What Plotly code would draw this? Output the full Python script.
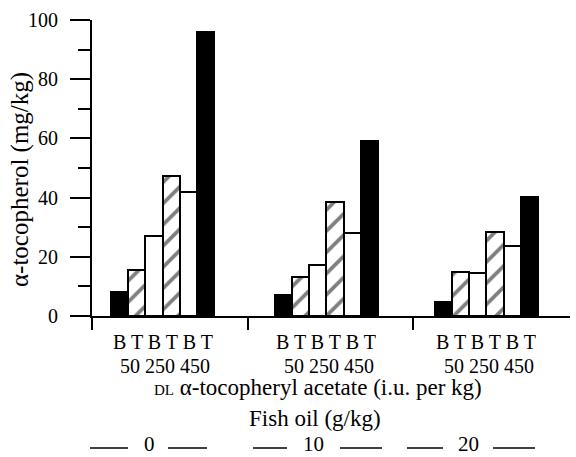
import plotly.graph_objects as go

# ---- data ----
fish_oil_levels = ["0", "10", "20"]
bar_labels = ["B", "T", "B", "T", "B", "T"]
dose_labels = ["50", "250", "450"]
fo0 = [8.2, 15.5, 27.0, 47.4, 41.9, 95.8]
fo10 = [7.1, 13.3, 17.2, 38.4, 27.9, 59.1]
fo20 = [4.8, 15.0, 14.4, 28.3, 23.8, 40.3]
series = [fo0, fo10, fo20]

# ---- styling / layout helpers ----
bar_style = ["black", "hatch", "white", "hatch", "white", "black"]
group_start = [1.58, 11.05, 20.3]
sep_ticks = [0, 9.0, 18.55]

W, H = 576, 457
L, R, T, B = 92, 6, 20, 141
PW, PH = W - L - R, H - T - B
XMAX = PW / 17.3
FONT = "Liberation Serif"


def xp(px):
    return (px - L) / PW


def yp(py):
    return (H - B - py) / PH


fig = go.Figure()
for style in ["black", "white", "hatch"]:
    xs, ys = [], []
    for g, vals in enumerate(series):
        for i, v in enumerate(vals):
            if bar_style[i] == style:
                xs.append(group_start[g] + i)
                ys.append(v)
    if style == "hatch":
        marker = dict(color="white", line=dict(color="black", width=2),
                      pattern=dict(shape="/", fgcolor="black", bgcolor="white",
                                   size=15, solidity=0.25))
    else:
        marker = dict(color=style, line=dict(color="black", width=2))
    fig.add_trace(go.Bar(x=xs, y=ys, width=1.0, marker=marker,
                         showlegend=False, hoverinfo="skip"))

annotations = []
for g in range(3):
    gc = group_start[g] + (len(bar_labels) - 1) / 2
    annotations.append(dict(x=gc, xref="x", y=yp(354), yref="paper",
                            text=" ".join(bar_labels), showarrow=False,
                            xanchor="center", yanchor="bottom", borderpad=0,
                            font=dict(size=20, family=FONT, color="black")))
    annotations.append(dict(x=gc + 0.15, xref="x", y=yp(354), yref="paper",
                            text=" ".join(dose_labels), showarrow=False,
                            xanchor="center", yanchor="top", borderpad=0,
                            font=dict(size=20, family=FONT, color="black")))

annotations.append(dict(x=xp(318), xref="paper", y=yp(387), yref="paper",
                        text="<span style='font-size:15px'>DL</span> α-tocopheryl acetate (i.u. per kg)",
                        showarrow=False, xanchor="center", yanchor="middle", borderpad=0,
                        font=dict(size=23, family=FONT, color="black")))
annotations.append(dict(x=xp(315), xref="paper", y=yp(418), yref="paper",
                        text="Fish oil (g/kg)", showarrow=False, xanchor="center", yanchor="middle",
                        borderpad=0, font=dict(size=23, family=FONT, color="black")))
annotations.append(dict(x=xp(20), xref="paper", y=yp(180), yref="paper",
                        text="α-tocopherol (mg/kg)", textangle=-90, showarrow=False,
                        xanchor="center", yanchor="middle",
                        font=dict(size=25, family=FONT, color="black")))

legend_pos = [(149, 90, 128, 168, 207), (313, 253, 287, 340, 382), (468, 407, 443, 493, 535)]
shapes = []
for lvl, (cx, a1, a2, b1, b2) in zip(fish_oil_levels, legend_pos):
    annotations.append(dict(x=xp(cx), xref="paper", y=yp(444), yref="paper",
                            text=lvl, showarrow=False, xanchor="center", yanchor="middle",
                            borderpad=0, font=dict(size=21, family=FONT, color="black")))
    for s, e in [(a1, a2), (b1, b2)]:
        shapes.append(dict(type="line", xref="paper", yref="paper",
                           x0=xp(s), x1=xp(e), y0=yp(448), y1=yp(448),
                           line=dict(color="black", width=1.3)))

fig.update_layout(
    width=W, height=H,
    margin=dict(l=L, r=R, t=T, b=B),
    paper_bgcolor="white", plot_bgcolor="white",
    bargap=0, barmode="overlay",
    font=dict(family=FONT, size=20, color="black"),
    annotations=annotations, shapes=shapes,
    xaxis=dict(range=[0, XMAX], showgrid=False, zeroline=False,
               showline=True, linecolor="black", linewidth=2,
               tickmode="array", tickvals=sep_ticks, ticks="outside",
               ticklen=12, tickwidth=2, tickcolor="black", showticklabels=False),
    yaxis=dict(range=[0, 100], showgrid=False, zeroline=False,
               showline=True, linecolor="black", linewidth=2,
               tickmode="array", tickvals=[0, 20, 40, 60, 80, 100],
               ticks="outside", ticklen=20, tickwidth=2, tickcolor="black",
               ticklabelstandoff=8,
               tickfont=dict(size=20, family=FONT, color="black"),
               minor=dict(tickmode="array", tickvals=[10, 30, 50, 70, 90],
                          ticks="outside", ticklen=12, tickwidth=2, tickcolor="black")),
)

fig.write_html("out.html")
